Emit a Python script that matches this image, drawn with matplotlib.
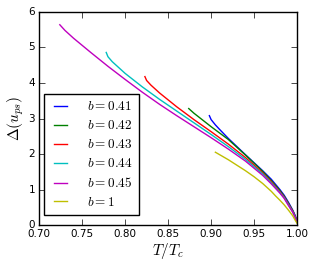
import matplotlib
matplotlib.use("Agg")
import matplotlib.pyplot as plt

plt.style.use("classic")

# values, per b
t_041 = [0.898, 0.900, 0.905, 0.91, 0.92, 0.94, 0.96, 0.97, 0.98, 0.985, 0.99, 0.995, 0.998, 1.0]
d_041 = [3.08, 2.97, 2.82, 2.69, 2.44, 1.98, 1.53, 1.29, 1.00, 0.84, 0.64, 0.42, 0.26, 0.10]

t_042 = [0.874, 0.88, 0.90, 0.92, 0.94, 0.96, 0.97, 0.98, 0.985, 0.99, 0.995, 0.998, 1.0]
d_042 = [3.28, 3.15, 2.77, 2.41, 1.97, 1.51, 1.25, 0.97, 0.81, 0.61, 0.40, 0.24, 0.09]

t_043 = [0.823, 0.825, 0.83, 0.84, 0.86, 0.88, 0.90, 0.92, 0.94, 0.96, 0.97, 0.98, 0.985, 0.99, 0.995, 0.998, 1.0]
d_043 = [4.18, 4.07, 3.94, 3.72, 3.33, 2.97, 2.63, 2.28, 1.90, 1.47, 1.22, 0.94, 0.79, 0.59, 0.39, 0.23, 0.09]

t_044 = [0.778, 0.780, 0.785, 0.80, 0.82, 0.84, 0.86, 0.88, 0.90, 0.92, 0.94, 0.96, 0.97, 0.98, 0.985, 0.99, 0.995, 0.998, 1.0]
d_044 = [4.86, 4.74, 4.60, 4.27, 3.89, 3.54, 3.21, 2.88, 2.55, 2.21, 1.85, 1.44, 1.19, 0.92, 0.77, 0.57, 0.37, 0.22, 0.08]

t_045 = [0.724, 0.73, 0.74, 0.76, 0.78, 0.80, 0.82, 0.84, 0.86, 0.88, 0.90, 0.92, 0.94, 0.96, 0.97, 0.98, 0.985, 0.99, 0.995, 0.998, 1.0]
d_045 = [5.64, 5.48, 5.26, 4.86, 4.47, 4.10, 3.74, 3.40, 3.08, 2.77, 2.46, 2.14, 1.80, 1.40, 1.16, 0.90, 0.75, 0.55, 0.36, 0.20, 0.08]

t_1 = [0.905, 0.92, 0.94, 0.95, 0.96, 0.97, 0.975, 0.98, 0.985, 0.99, 0.995, 0.998, 1.0]
d_1 = [2.05, 1.84, 1.53, 1.36, 1.17, 0.95, 0.82, 0.70, 0.57, 0.42, 0.26, 0.13, 0.05]

series = [
    (t_041, d_041, "b", r"$b=0.41$"),
    (t_042, d_042, "g", r"$b=0.42$"),
    (t_043, d_043, "r", r"$b=0.43$"),
    (t_044, d_044, "c", r"$b=0.44$"),
    (t_045, d_045, "m", r"$b=0.45$"),
    (t_1, d_1, "y", r"$b=1$"),
]

fig = plt.figure(figsize=(3.16, 2.66), dpi=100)
fig.patch.set_facecolor("white")
ax = fig.add_axes([0.124, 0.154, 0.816, 0.801])

for t, d, c, lab in series:
    ax.plot(t, d, color=c, lw=1.0, label=lab)

ax.set_xlim(0.70, 1.00)
ax.set_ylim(0, 6)
ax.set_xticks([0.70, 0.75, 0.80, 0.85, 0.90, 0.95, 1.00])
ax.set_xticklabels(["0.70", "0.75", "0.80", "0.85", "0.90", "0.95", "1.00"])
ax.set_yticks(range(7))
ax.tick_params(labelsize=7.5, length=4, pad=3)
ax.set_xlabel(r"$T/T_c$", fontsize=11, labelpad=1)
ax.set_ylabel(r"$\Delta(u_{ps})$", fontsize=11, labelpad=2)

leg = ax.legend(loc="lower left", bbox_to_anchor=(0.019, 0.047),
                borderaxespad=0, fontsize=9.5, handlelength=1.6,
                handletextpad=1.2, labelspacing=0.45, borderpad=0.45,
                frameon=True, fancybox=False)
leg.get_frame().set_edgecolor("black")
leg.get_frame().set_linewidth(1.0)

fig.savefig("out.png", dpi=100, facecolor="white")
